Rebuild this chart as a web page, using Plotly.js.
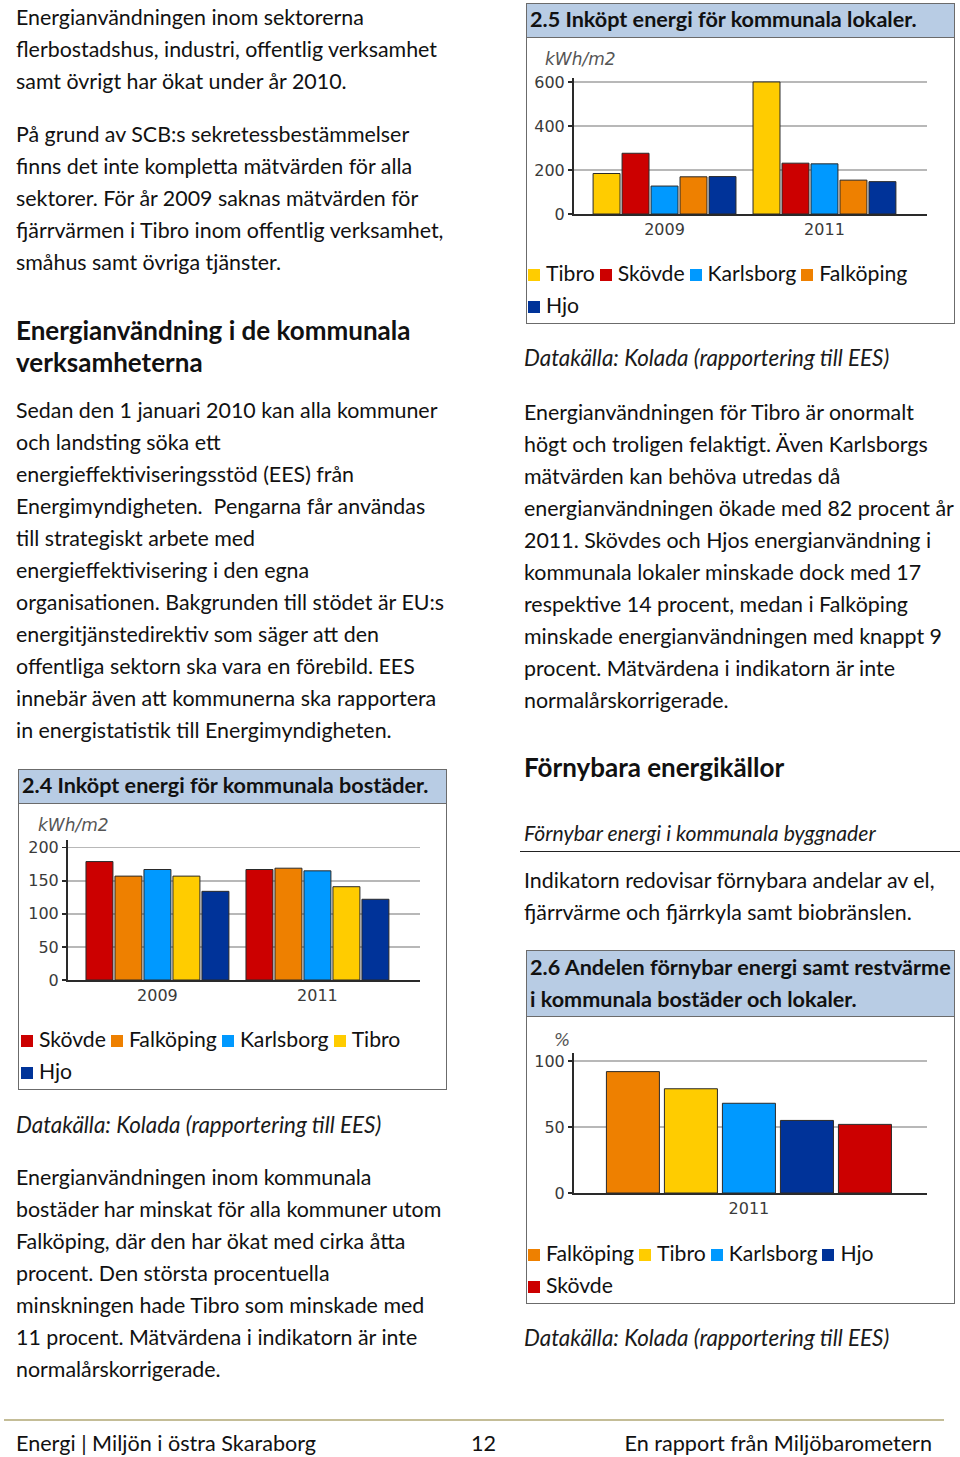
<!DOCTYPE html>
<html>
<head>
<meta charset="utf-8">
<script src="https://cdn.plot.ly/plotly-3.0.1.min.js"></script>
<style>
  html, body { margin:0; padding:0; background:#fff; }
  body { width:960px; height:1457px; position:relative; overflow:hidden;
         font-family: Lato, "Open Sans", sans-serif; color:#111; }
  .t { position:absolute; font-size:21.4px; line-height:32px; white-space:nowrap; }
  .h { position:absolute; font-size:26px; line-height:32px; font-weight:bold; white-space:nowrap; }
  .it { font-style:italic; font-size:22.4px; color:#1a1a1a; }
  .box { position:absolute; border:1.5px solid #6b6b6b; box-sizing:border-box; background:#fff; }
  .band { position:absolute; left:0; right:0; top:0; background:#b8cce4; border-bottom:1.5px solid #6b6b6b;
          font-weight:bold; font-size:21.6px; line-height:32px; padding-left:3px; white-space:nowrap; box-sizing:border-box; }
  .plot { position:absolute; }
  .leg { position:absolute; font-size:21.2px; line-height:32px; white-space:nowrap; }
  .leg span.sq { display:inline-block; width:12px; height:12px; margin-right:6px; vertical-align:middle; position:relative; top:-1px; }
  .leg span.nm { margin-right:5px; }
  .rule { position:absolute; height:0; }
</style>
</head>
<body>

<!-- left column text -->
<div class="t" style="left:16px; top:1px;">Energianvändningen inom sektorerna<br>flerbostadshus, industri, offentlig verksamhet<br>samt övrigt har ökat under år 2010.</div>
<div class="t" style="left:16px; top:118px;">På grund av SCB:s sekretessbestämmelser<br>finns det inte kompletta mätvärden för alla<br>sektorer. För år 2009 saknas mätvärden för<br>fjärrvärmen i Tibro inom offentlig verksamhet,<br>småhus samt övriga tjänster.</div>
<div class="h" style="left:16px; top:314px;">Energianvändning i de kommunala<br>verksamheterna</div>
<div class="t" style="left:16px; top:394px;">Sedan den 1 januari 2010 kan alla kommuner<br>och landsting söka ett<br>energieffektiviseringsstöd (EES) från<br>Energimyndigheten.&nbsp; Pengarna får användas<br>till strategiskt arbete med<br>energieffektivisering i den egna<br>organisationen. Bakgrunden till stödet är EU:s<br>energitjänstedirektiv som säger att den<br>offentliga sektorn ska vara en förebild. EES<br>innebär även att kommunerna ska rapportera<br>in energistatistik till Energimyndigheten.</div>

<div class="box" style="left:18px; top:769px; width:429px; height:321px;">
  <div class="band" style="height:34px; line-height:31px;">2.4 Inköpt energi för kommunala bostäder.</div>
</div>
<div class="plot" id="c24" style="left:18px; top:803px; width:428px; height:215px;"></div>
<div class="leg" id="l24" style="left:21px; top:1023px;"></div>

<div class="t it" style="left:16px; top:1109px;">Datakälla: Kolada (rapportering till EES)</div>
<div class="t" style="left:16px; top:1161px;">Energianvändningen inom kommunala<br>bostäder har minskat för alla kommuner utom<br>Falköping, där den har ökat med cirka åtta<br>procent. Den största procentuella<br>minskningen hade Tibro som minskade med<br>11 procent. Mätvärdena i indikatorn är inte<br>normalårskorrigerade.</div>

<!-- right column -->
<div class="box" style="left:526px; top:3px; width:429px; height:321px;">
  <div class="band" style="height:34px; line-height:31px;">2.5 Inköpt energi för kommunala lokaler.</div>
</div>
<div class="plot" id="c25" style="left:526px; top:37px; width:428px; height:215px;"></div>
<div class="leg" id="l25" style="left:528px; top:257px;"></div>

<div class="t it" style="left:524px; top:342px;">Datakälla: Kolada (rapportering till EES)</div>
<div class="t" style="left:524px; top:396px;">Energianvändningen för Tibro är onormalt<br>högt och troligen felaktigt. Även Karlsborgs<br>mätvärden kan behöva utredas då<br>energianvändningen ökade med 82 procent år<br>2011. Skövdes och Hjos energianvändning i<br>kommunala lokaler minskade dock med 17<br>respektive 14 procent, medan i Falköping<br>minskade energianvändningen med knappt 9<br>procent. Mätvärdena i indikatorn är inte<br>normalårskorrigerade.</div>

<div class="h" style="left:524px; top:751px;">Förnybara energikällor</div>
<div class="t" style="left:524px; top:817px; font-style:italic; font-size:21.2px; color:#1a1a1a;">Förnybar energi i kommunala byggnader</div>
<div class="rule" style="left:520px; top:851px; width:440px; border-top:1.5px solid #222;"></div>
<div class="t" style="left:524px; top:864px;">Indikatorn redovisar förnybara andelar av el,<br>fjärrvärme och fjärrkyla samt biobränslen.</div>

<div class="box" style="left:526px; top:950px; width:429px; height:354px;">
  <div class="band" style="height:66px; line-height:32px;">2.6 Andelen förnybar energi samt restvärme<br>i kommunala bostäder och lokaler.</div>
</div>
<div class="plot" id="c26" style="left:526px; top:1016px; width:428px; height:215px;"></div>
<div class="leg" id="l26" style="left:528px; top:1237px;"></div>

<div class="t it" style="left:524px; top:1322px;">Datakälla: Kolada (rapportering till EES)</div>

<!-- footer -->
<div class="rule" style="left:4px; top:1419px; width:940px; border-top:2px solid #c4bd97;"></div>
<div class="t" style="left:16px; top:1427px; font-size:21.6px;">Energi | Miljön i östra Skaraborg</div>
<div class="t" style="left:471px; top:1427px; font-size:21.6px;">12</div>
<div class="t" style="right:28px; top:1427px; font-size:21.6px;">En rapport från Miljöbarometern</div>

<script>
// ---------- data ----------
const years = ['2009', '2011'];

// 2.4 Inköpt energi för kommunala bostäder (kWh/m2)
const bostaderNames = ['Skövde', 'Falköping', 'Karlsborg', 'Tibro', 'Hjo'];
const bostader2009 = [179, 157, 167, 157, 134];
const bostader2011 = [167, 169, 165, 141, 122];

// 2.5 Inköpt energi för kommunala lokaler (kWh/m2)
const lokalerNames = ['Tibro', 'Skövde', 'Karlsborg', 'Falköping', 'Hjo'];
const lokaler2009 = [184, 276, 127, 169, 170];
const lokaler2011 = [600, 231, 228, 154, 147];

// 2.6 Andelen förnybar energi samt restvärme (%)
const fornybarYear = ['2011'];
const fornybarNames = ['Falköping', 'Tibro', 'Karlsborg', 'Hjo', 'Skövde'];
const fornybar2011 = [92, 79, 68, 55, 52];

const yTicks24 = [0, 50, 100, 150, 200];
const yTicks25 = [0, 200, 400, 600];
const yTicks26 = [0, 50, 100];

// ---------- styles ----------
const colors = {
  'Tibro': '#FFCC00',
  'Skövde': '#CC0000',
  'Karlsborg': '#0099FF',
  'Falköping': '#EE8000',
  'Hjo': '#003399'
};

function traces(names, cats, seriesByYear) {
  return names.map((n, i) => ({
    type: 'bar',
    name: n,
    x: cats,
    y: seriesByYear.map(s => s[i]),
    marker: { color: colors[n], line: { color: '#2a2a2a', width: 1 } },
    hoverinfo: 'none'
  }));
}

function layout(opts) {
  return {
    width: 428, height: 215,
    margin: opts.margin,
    paper_bgcolor: 'rgba(0,0,0,0)',
    plot_bgcolor: 'rgba(0,0,0,0)',
    showlegend: false,
    barmode: 'group',
    bargap: opts.bargap,
    bargroupgap: opts.bargroupgap,
    font: { family: 'DejaVu Sans, Verdana, sans-serif', size: 16, color: '#444' },
    xaxis: {
      type: 'category',
      range: opts.xrange,
      showline: true, linecolor: '#2a2a2a', linewidth: 2,
      showgrid: false, ticks: '', fixedrange: true,
      tickfont: { size: 16, color: '#3a3a3a' }
    },
    yaxis: {
      range: opts.yrange,
      tickvals: opts.ytick, ticktext: opts.ytick.map(String),
      showline: true, linecolor: '#2a2a2a', linewidth: 2,
      showgrid: true, gridcolor: '#b8b8b8', gridwidth: 1.5,
      zeroline: false,
      ticks: 'outside', ticklen: 4, tickcolor: '#2a2a2a', tickwidth: 1.5,
      tickfont: { size: 16, color: '#3a3a3a' }
    },
    annotations: [{
      text: opts.unit, xref: 'paper', yref: 'paper',
      x: opts.unitx, y: opts.unity, xanchor: 'left', yanchor: 'middle',
      showarrow: false,
      font: { family: 'DejaVu Sans, Verdana, sans-serif', size: 17, color: '#555', style: 'italic' }
    }]
  };
}

const cfg = { staticPlot: true, displayModeBar: false };

Plotly.newPlot('c24',
  traces(bostaderNames, years, [bostader2009, bostader2011]),
  layout({ margin: { l: 50, r: 26, t: 37, b: 38 }, bargap: 0.094, bargroupgap: 0.07,
           xrange: [-0.559, 1.641], yrange: [0, 211.6], ytick: yTicks24,
           unit: 'kWh/m2', unitx: -0.091, unity: 1.107 }), cfg);

Plotly.newPlot('c25',
  traces(lokalerNames, years, [lokaler2009, lokaler2011]),
  layout({ margin: { l: 48, r: 27, t: 41, b: 38 }, bargap: 0.094, bargroupgap: 0.07,
           xrange: [-0.566, 1.641], yrange: [0, 618], ytick: yTicks25,
           unit: 'kWh/m2', unitx: -0.088, unity: 1.14 }), cfg);

Plotly.newPlot('c26',
  traces(fornybarNames, fornybarYear, [fornybar2011]),
  layout({ margin: { l: 48, r: 27, t: 37, b: 38 }, bargap: 0.171, bargroupgap: 0.086,
           xrange: [-0.5, 0.509], yrange: [0, 106.1], ytick: yTicks26,
           unit: '%', unitx: -0.062, unity: 1.093 }), cfg);

// ---------- legends (rows as in the reference) ----------
function legend(id, rows) {
  const el = document.getElementById(id);
  el.innerHTML = rows.map(r => r.map(n =>
    '<span class="sq" style="background:' + colors[n] + '"></span><span class="nm">' + n + '</span>'
  ).join('')).join('<br>');
}
legend('l24', [bostaderNames.slice(0, 4), bostaderNames.slice(4)]);
legend('l25', [lokalerNames.slice(0, 4), lokalerNames.slice(4)]);
legend('l26', [fornybarNames.slice(0, 4), fornybarNames.slice(4)]);
</script>
</body>
</html>
